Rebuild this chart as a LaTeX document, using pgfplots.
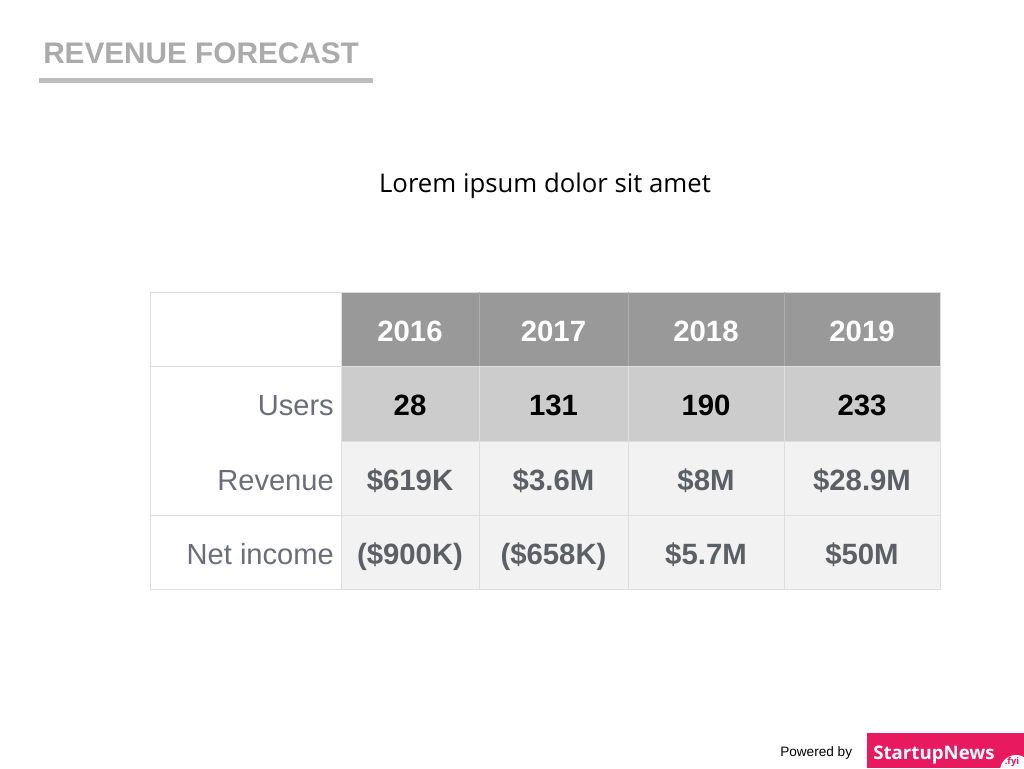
\documentclass[border=0pt]{standalone}
\usepackage{pgfplots}
\usepackage{pgfplotstable}
\pgfplotsset{compat=1.18}
\usepackage{fontspec}
\setmainfont{Liberation Sans}
\newfontfamily\opensans{Open Sans}
\definecolor{hdr}{HTML}{999999}
\definecolor{usr}{HTML}{CCCCCC}
\definecolor{cell}{HTML}{F2F2F2}
\definecolor{gridc}{HTML}{DEDEDE}
\definecolor{valc}{HTML}{5C6064}
\definecolor{labc}{HTML}{6B6E78}
\definecolor{titlec}{HTML}{ABABAB}
\definecolor{barc}{HTML}{BDBDBD}
\definecolor{pink}{HTML}{E8195E}

% header row (baseline y in pixel units, y downwards)
\pgfplotstableread{
x y label
410 341 2016
553.5 341 2017
706 341 2018
862 341 2019
}\headrow
\pgfplotstableread{
x y label
410 415 28
553.5 415 131
706 415 190
862 415 233
}\usersrow
\pgfplotstableread{
x y label
410 490 \$619K
553.5 490 \$3.6M
706 490 \$8M
862 490 \$28.9M
}\revrow
\pgfplotstableread{
x y label
410 564 (\$900K)
553.5 564 (\$658K)
706 564 \$5.7M
862 564 \$50M
}\netrow
\pgfplotstableread{
x y label
334 415 Users
334 490 Revenue
334 564 {Net income}
}\labrow

\begin{document}
\begin{tikzpicture}
\begin{axis}[
  scale only axis, width=768pt, height=576pt,
  xmin=0, xmax=1024, ymin=0, ymax=768, y dir=reverse,
  hide axis, clip=false,
  every node near coord/.append style={anchor=base, inner sep=0pt},
]
% background
\fill[white] (axis cs:0,0) rectangle (axis cs:1024,768);
% cells
\fill[hdr] (axis cs:341,292) rectangle (axis cs:940,366);
\fill[usr] (axis cs:341,366) rectangle (axis cs:940,441);
\fill[cell] (axis cs:341,441) rectangle (axis cs:940,589);
% grid lines
\draw[gridc, line width=0.7pt] (axis cs:150,292) rectangle (axis cs:940,589);
\draw[gridc, line width=0.7pt] (axis cs:150,366) -- (axis cs:940,366);
\draw[gridc, line width=0.7pt] (axis cs:341,441) -- (axis cs:940,441);
\draw[gridc, line width=0.7pt] (axis cs:150,515) -- (axis cs:940,515);
\draw[gridc, line width=0.7pt] (axis cs:341,292) -- (axis cs:341,589);
\draw[gridc, line width=0.7pt] (axis cs:479,292) -- (axis cs:479,589);
\draw[gridc, line width=0.7pt] (axis cs:628,292) -- (axis cs:628,589);
\draw[gridc, line width=0.7pt] (axis cs:784,292) -- (axis cs:784,589);
\draw[hdr!80!white, line width=0.6pt] (axis cs:479,292) -- (axis cs:479,366);
\draw[hdr!80!white, line width=0.6pt] (axis cs:628,292) -- (axis cs:628,366);
\draw[hdr!80!white, line width=0.6pt] (axis cs:784,292) -- (axis cs:784,366);
% texts
\addplot[draw=none, mark=none, nodes near coords, point meta=explicit symbolic,
  every node near coord/.append style={text=white, font=\fontsize{22}{26}\selectfont\bfseries}]
  table[meta=label] {\headrow};
\addplot[draw=none, mark=none, nodes near coords, point meta=explicit symbolic,
  every node near coord/.append style={text=black, font=\fontsize{22}{26}\selectfont\bfseries}]
  table[meta=label] {\usersrow};
\addplot[draw=none, mark=none, nodes near coords, point meta=explicit symbolic,
  every node near coord/.append style={text=valc, font=\fontsize{22}{26}\selectfont\bfseries}]
  table[meta=label] {\revrow};
\addplot[draw=none, mark=none, nodes near coords, point meta=explicit symbolic,
  every node near coord/.append style={text=valc, font=\fontsize{22}{26}\selectfont\bfseries}]
  table[meta=label] {\netrow};
\addplot[draw=none, mark=none, nodes near coords, point meta=explicit symbolic,
  every node near coord/.append style={anchor=base east, text=labc, font=\fontsize{21.8}{26}\selectfont}]
  table[meta=label] {\labrow};
% title
\node[anchor=base west, inner sep=0pt, text=titlec, font=\fontsize{22.3}{26}\selectfont\bfseries]
  at (axis cs:43,63) {REVENUE FORECAST};
\fill[barc] (axis cs:39,78) rectangle (axis cs:373,83);
% subtitle
\node[anchor=base, inner sep=0pt, text=black, font=\opensans\fontsize{19.3}{23}\selectfont]
  at (axis cs:545,192) {Lorem ipsum dolor sit amet};
% footer
\node[anchor=base west, inner sep=0pt, font=\fontsize{10.2}{12}\selectfont]
  at (axis cs:780,756) {Powered by};
\begin{scope}
\clip (axis cs:867,733) rectangle (axis cs:1024,768);
\fill[pink] (axis cs:867,733) rectangle (axis cs:1024,768);
\fill[white] (axis cs:1016,771) circle[radius=12pt];
\end{scope}
\node[anchor=base west, inner sep=0pt, text=white, font=\opensans\bfseries\fontsize{14}{17}\selectfont]
  at (axis cs:873,759) {StartupNews};
\node[anchor=base, inner sep=0pt, text=pink, font=\opensans\bfseries\fontsize{7}{8}\selectfont]
  at (axis cs:1012,764) {.fyi};
\end{axis}
\end{tikzpicture}
\end{document}
